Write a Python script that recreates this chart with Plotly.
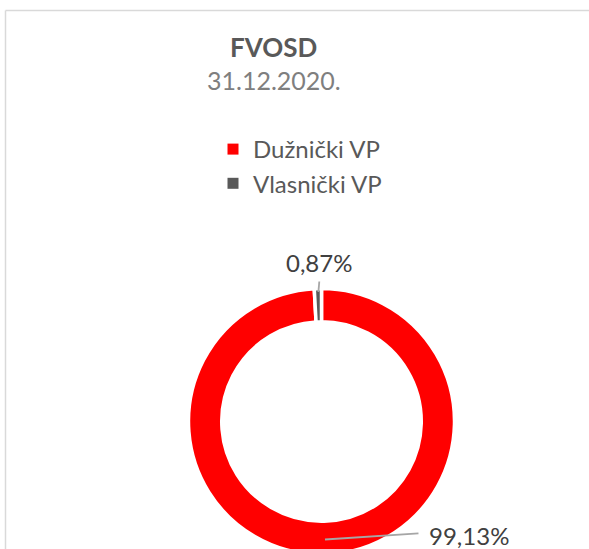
import plotly.graph_objects as go

# ---- data ----
categories = ["Dužnički VP", "Vlasnički VP"]
shares = [99.13, 0.87]
colors = ["#FF0000", "#595959"]
title_text = "FVOSD"
subtitle_text = "31.12.2020."

W, H = 589, 600  # figure taller than the window so the donut is cut off at the bottom like the reference


def px(x):
    return x / W


def py(y):
    return 1 - y / H


def fmt(v):
    return f"{v:.2f}".replace(".", ",") + "%"


# donut geometry (pixels)
cx, cy, R = 321.5, 421.5, 133

fig = go.Figure()
fig.add_trace(
    go.Pie(
        labels=categories,
        values=shares,
        hole=0.75,
        sort=False,
        direction="clockwise",
        rotation=0,
        marker=dict(colors=colors, line=dict(color="white", width=3.5)),
        textinfo="none",
        hoverinfo="label+percent",
        showlegend=False,
        domain=dict(x=[px(cx - R), px(cx + R)], y=[py(cy + R), py(cy - R)]),
    )
)
# legend entries (same categories / colours as the slices)
for name, col in zip(categories, colors):
    fig.add_trace(
        go.Scatter(
            x=[None], y=[None], mode="markers", name=name,
            marker=dict(symbol="square", size=11, color=col),
            hoverinfo="skip", showlegend=True,
        )
    )

label_font = dict(family="Lato, 'Open Sans', sans-serif", size=24, color="#404040")

annotations = [
    dict(text=f"<b>{title_text}</b>", x=px(273), y=py(47), xref="paper", yref="paper",
         showarrow=False, xanchor="center", yanchor="middle",
         font=dict(family="Lato, sans-serif", size=26, color="#595959")),
    dict(text=subtitle_text, x=px(273.5), y=py(80), xref="paper", yref="paper",
         showarrow=False, xanchor="center", yanchor="middle",
         font=dict(family="Lato, sans-serif", size=25, color="#7F7F7F")),
    dict(text=fmt(shares[1]), x=px(319), y=py(262), xref="paper", yref="paper",
         showarrow=False, xanchor="center", yanchor="middle", font=label_font),
    dict(text=fmt(shares[0]), x=px(427), y=py(535), xref="paper", yref="paper",
         showarrow=False, xanchor="left", yanchor="middle", font=label_font),
]

line_grey = dict(color="#A6A6A6", width=1.8)
frame = dict(color="#D9D9D9", width=1.5)
shapes = [
    # chart frame
    dict(type="line", xref="paper", yref="paper", x0=px(5.5), y0=py(10.5), x1=px(W + 5), y1=py(10.5), line=frame),
    dict(type="line", xref="paper", yref="paper", x0=px(5.5), y0=py(10.5), x1=px(5.5), y1=py(H + 5), line=frame),
    # leader lines
    dict(type="line", xref="paper", yref="paper", x0=px(319.3), y0=py(281.5), x1=px(318.4), y1=py(292), line=line_grey),
    dict(type="line", xref="paper", yref="paper", x0=px(325), y0=py(539.5), x1=px(418.5), y1=py(533.3), line=line_grey),
]

fig.update_layout(
    width=W,
    height=H,
    margin=dict(l=0, r=0, t=0, b=0),
    paper_bgcolor="white",
    plot_bgcolor="rgba(0,0,0,0)",
    xaxis=dict(visible=False),
    yaxis=dict(visible=False),
    annotations=annotations,
    shapes=shapes,
    showlegend=True,
    legend=dict(
        x=px(213), y=py(127), xanchor="left", yanchor="top",
        font=dict(family="Lato, sans-serif", size=24, color="#595959"),
        bgcolor="rgba(0,0,0,0)",
        traceorder="normal",
        tracegroupgap=0,
    ),
)

fig.write_html(
    "out.html",
    config={"displayModeBar": False},
    post_script="document.body.style.margin='0';document.body.style.overflow='hidden';"
                "document.documentElement.style.overflow='hidden';",
)
